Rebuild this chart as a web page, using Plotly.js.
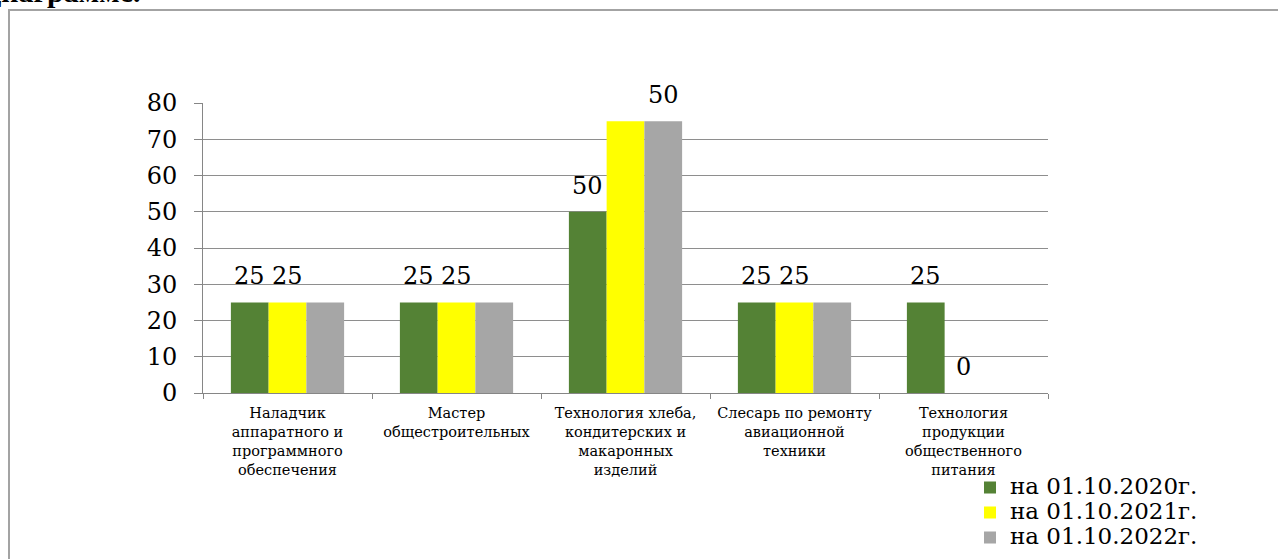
<!DOCTYPE html>
<html>
<head>
<meta charset="utf-8">
<script src="https://cdn.plot.ly/plotly-3.0.1.min.js"></script>
<style>
html,body{margin:0;padding:0;background:#fff;overflow:hidden;}
#frame{position:absolute;left:8px;top:9px;width:1300px;height:600px;border-left:2px solid #a3a3a3;border-top:2px solid #a3a3a3;box-sizing:border-box;}
#chart{position:absolute;left:0;top:0;width:1278px;height:559px;}
</style>
</head>
<body>
<div id="frame"></div>
<div id="chart"></div>
<script>
// ---- data ----
var categories = [
  "Наладчик<br>аппаратного и<br>программного<br>обеспечения",
  "Мастер<br>общестроительных",
  "Технология хлеба,<br>кондитерских и<br>макаронных<br>изделий",
  "Слесарь по ремонту<br>авиационной<br>техники",
  "Технология<br>продукции<br>общественного<br>питания"
];
var seriesNames = ["на 01.10.2020г.", "на 01.10.2021г.", "на 01.10.2022г."];
var values2020 = [25, 25, 50, 25, 25];
var values2021 = [25, 25, 75, 25, 0];
var values2022 = [25, 25, 75, 25, null];
var labels2020 = ["25", "25", "50", "25", "25"];
var labels2021 = ["25", "25", "", "25", "0"];
var labels2022 = ["", "", "50", "", ""];
var yTicks = [0, 10, 20, 30, 40, 50, 60, 70, 80];

var colors = ["#548235", "#FFFF00", "#A6A6A6"];
var serif = "'DejaVu Serif', 'Liberation Serif', serif";
var bargap = 0.33;

var allValues = [values2020, values2021, values2022];
var allLabels = [labels2020, labels2021, labels2022];

var traces = allValues.map(function (vals, j) {
  return {
    type: "bar",
    x: categories,
    y: vals,
    name: '<span style="font-size:23px">' + seriesNames[j] + '</span>',
    marker: {color: colors[j], line: {width: 0}},
    hoverinfo: "none"
  };
});

// data labels as annotations placed over each bar
var barW = (1 - bargap) / 3;
var annotations = [];
allLabels.forEach(function (labs, j) {
  labs.forEach(function (t, i) {
    if (t === "") return;
    annotations.push({
      xref: "x", yref: "y",
      x: i + (j - 1) * barW,
      y: allValues[j][i] || 0,
      text: t,
      showarrow: false,
      xanchor: "center", yanchor: "bottom",
      yshift: 10,
      font: {family: serif, size: 24, color: "#000"}
    });
  });
});

// cropped heading text at the very top
annotations.push({
  xref: "paper", yref: "paper",
  x: -0.0722, y: 1.322,
  xanchor: "right", yanchor: "bottom",
  text: "<b>диаграмме.</b>",
  showarrow: false,
  font: {family: "'Liberation Serif', serif", size: 30, color: "#000"}
});

var layout = {
  width: 1278, height: 559,
  margin: {l: 203, r: 230, t: 103, b: 166, autoexpand: false},
  paper_bgcolor: "rgba(0,0,0,0)",
  plot_bgcolor: "rgba(0,0,0,0)",
  barmode: "group",
  bargap: bargap,
  bargroupgap: 0,
  showlegend: true,
  legend: {
    x: 0.9077, y: -0.265, xanchor: "left", yanchor: "top",
    font: {family: serif, size: 17, color: "#000"},
    bgcolor: "rgba(0,0,0,0)",
    tracegroupgap: 0,
    traceorder: "normal"
  },
  xaxis: {
    type: "category",
    showgrid: false,
    showline: true, linecolor: "#868686", linewidth: 1,
    ticks: "outside", tickson: "boundaries", ticklen: 5, tickcolor: "#868686",
    ticklabelstandoff: 7,
    tickfont: {family: serif, size: 14.5, color: "#000"},
    tickangle: 0,
    fixedrange: true
  },
  yaxis: {
    range: [0, 80],
    tickvals: yTicks,
    ticktext: yTicks.map(String),
    showgrid: true, gridcolor: "#8e8e8e", gridwidth: 1,
    zeroline: false,
    showline: true, linecolor: "#868686", linewidth: 1,
    ticks: "outside", ticklen: 8, tickcolor: "#868686",
    ticklabelstandoff: 12,
    tickfont: {family: serif, size: 24, color: "#000"},
    fixedrange: true
  },
  annotations: annotations
};

Plotly.newPlot("chart", traces, layout, {displayModeBar: false, staticPlot: true});
</script>
</body>
</html>
